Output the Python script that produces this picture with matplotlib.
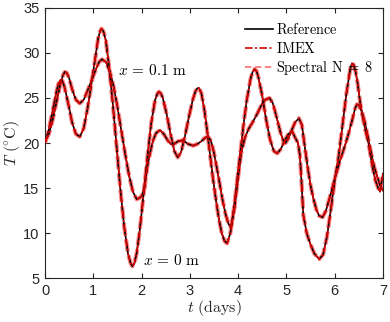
import matplotlib
matplotlib.use("Agg")
import matplotlib.pyplot as plt
from matplotlib.lines import Line2D

# x = 0 m (surface) temperature
t_x0 = [0.00, 0.08, 0.16, 0.24, 0.28, 0.32, 0.36, 0.40, 0.48, 0.56, 0.64, 0.72,
        0.80, 0.88, 0.96, 1.04, 1.10, 1.14, 1.17, 1.21, 1.26, 1.32, 1.40, 1.48,
        1.56, 1.64, 1.72, 1.77, 1.81, 1.85, 1.90, 1.96, 2.04, 2.12, 2.20, 2.28,
        2.33, 2.36, 2.40, 2.44, 2.52, 2.60, 2.68, 2.75, 2.82, 2.90, 2.98, 3.06,
        3.12, 3.16, 3.19, 3.24, 3.30, 3.36, 3.42, 3.48, 3.54, 3.60, 3.66,
        3.72, 3.77, 3.84, 3.92, 4.00, 4.06, 4.12, 4.18, 4.26, 4.30, 4.34, 4.38,
        4.42, 4.50, 4.58, 4.66, 4.74, 4.81, 4.88, 4.96, 5.04, 5.12,
        5.18, 5.24, 5.28, 5.32, 5.35, 5.42, 5.49, 5.58, 5.68, 5.76,
        5.84, 5.92, 6.00, 6.08, 6.16, 6.24, 6.30, 6.33, 6.36, 6.39, 6.43, 6.47,
        6.53, 6.62, 6.70, 6.77, 6.84, 6.90, 6.94, 7.00]
T_x0 = [20.0, 21.5, 23.6, 25.8, 26.6, 27.0, 26.9, 26.3, 24.4, 22.3, 21.0, 20.7,
        21.6, 23.8, 26.5, 29.4, 31.6, 32.4, 32.7, 32.4, 31.4, 28.8, 24.6, 19.8,
        14.9, 10.7, 7.7, 6.7, 6.3, 6.6, 7.8, 10.2, 14.2, 18.4, 22.2, 24.8,
        25.5, 25.7, 25.5, 25.0, 23.2, 21.0, 19.1, 18.4, 19.0, 20.8, 22.9, 24.8,
        25.8, 26.1, 26.1, 25.5, 23.7, 21.3, 18.6, 16.0, 13.7, 11.6, 10.0,
        9.1, 8.85, 10.0, 13.0, 16.8, 19.6, 22.4, 24.8, 27.2, 27.9, 28.2, 28.0,
        27.3, 25.2, 22.6, 20.4, 19.1, 18.85, 19.3, 20.2, 21.0, 21.3,
        20.6, 20.0, 18.6, 15.0, 12.0, 10.0, 8.85, 7.7, 7.1, 7.6,
        9.6, 12.6, 15.8, 18.5, 21.9, 25.4, 27.5, 28.4, 28.85, 28.7, 28.0, 26.8,
        24.4, 21.8, 20.0, 17.7, 15.9, 15.0, 14.6, 16.6]

# x = 0.1 m temperature
t_x01 = [0.00, 0.08, 0.16, 0.24, 0.32, 0.37, 0.41, 0.45, 0.50, 0.56, 0.64, 0.72,
         0.80, 0.88, 0.96, 1.04, 1.12, 1.18, 1.26, 1.34, 1.42, 1.50,
         1.58, 1.66, 1.74, 1.82, 1.90, 1.96, 2.00, 2.06, 2.12, 2.18,
         2.24, 2.30, 2.38, 2.46, 2.54, 2.60, 2.66, 2.76, 2.86, 2.96,
         3.07, 3.16, 3.24, 3.32, 3.38, 3.44, 3.50, 3.56, 3.62, 3.68,
         3.74, 3.80, 3.85, 3.92, 4.00, 4.06, 4.14, 4.22, 4.30, 4.40,
         4.48, 4.56, 4.65, 4.72, 4.80, 4.88, 4.94, 4.98, 5.04, 5.10,
         5.18, 5.26, 5.32, 5.38, 5.44, 5.50, 5.56, 5.62, 5.68, 5.75,
         5.82, 5.90, 6.02, 6.12, 6.23, 6.30, 6.36, 6.42, 6.46, 6.50,
         6.56, 6.62, 6.67, 6.72, 6.77, 6.82, 6.88, 6.94, 7.00]
T_x01 = [20.2, 21.0, 22.6, 24.6, 26.6, 27.5, 27.9, 27.8, 27.2, 26.0, 24.8, 24.4,
         24.8, 25.8, 26.9, 28.0, 29.0, 29.3, 29.0, 28.0, 26.3, 24.0,
         21.4, 18.8, 16.4, 14.6, 13.75, 13.9, 14.1, 15.0, 17.4, 19.0,
         20.3, 21.1, 21.45, 21.0, 20.3, 19.9, 19.85, 20.2, 20.3, 19.9,
         19.7, 19.9, 20.2, 20.6, 20.7, 20.2, 18.9, 17.2, 15.4, 13.6,
         12.1, 11.0, 10.6, 12.6, 16.2, 18.8, 20.6, 21.6, 22.3, 23.3,
         24.2, 24.8, 25.0, 24.4, 22.8, 21.1, 20.2, 20.0, 20.5, 21.3,
         22.3, 22.75, 22.0, 19.6, 17.3, 15.3, 13.8, 12.6, 11.9, 11.75,
         12.5, 14.0, 16.4, 18.2, 20.0, 21.3, 22.5, 23.8, 24.3, 24.2,
         23.5, 22.4, 21.1, 19.8, 18.5, 17.3, 16.3, 15.3, 14.7]

series_names = ["Reference", "IMEX", "Spectral N = 8"]
x_ticks = [0, 1, 2, 3, 4, 5, 6, 7]
y_ticks = [5, 10, 15, 20, 25, 30, 35]

plt.rcParams["mathtext.fontset"] = "cm"
plt.rcParams["font.family"] = ["Liberation Sans", "DejaVu Sans"]

fig = plt.figure(figsize=(3.9, 3.22), dpi=100)
ax = fig.add_axes([0.1154, 0.1366, 0.8666, 0.8386])

ink = "#262626"
spec_kw = dict(color="#ff6b6b", lw=3.0, ls=(0, (3.0, 1.0)), alpha=0.85, zorder=2)
ref_kw = dict(color="black", lw=1.2, ls="-", zorder=3)
imex_dash = (0, (4.5, 1.5, 1.2, 1.5))
imex_kw = dict(color="#d40000", lw=1.2, ls=imex_dash, zorder=4)

for tt, TT in [(t_x0, T_x0), (t_x01, T_x01)]:
    ax.plot(tt, TT, **spec_kw)
    ax.plot(tt, TT, **ref_kw)
    ax.plot(tt, TT, **imex_kw)


def to_math(s):
    parts = s.split(" = ")
    parts = [r"\mathrm{" + p.replace(" ", r"\ ") + "}" for p in parts]
    return "$" + r"\;=\;".join(parts) + "$"


handles = [Line2D([], [], color="black", lw=1.2),
           Line2D([], [], color="#d40000", lw=1.2, ls=imex_dash),
           Line2D([], [], color="#ff7a7a", lw=1.3, ls=(0, (3.5, 2.0)))]
labels = [to_math(s) for s in series_names]
leg = ax.legend(handles, labels, loc="upper right", frameon=False,
                fontsize=10.3, handlelength=1.95, handletextpad=0.2,
                labelspacing=0.25, bbox_to_anchor=(1.0, 0.985),
                borderaxespad=0.3)

ax.text(1.52, 28.0, r"$x\,=\,0.1\ \mathrm{m}$", fontsize=11, va="center", ha="left")
ax.text(2.03, 7.0, r"$x\,=\,0\ \mathrm{m}$", fontsize=11, va="center", ha="left")

ax.set_xlim(0, 7)
ax.set_ylim(5, 35)
ax.set_xticks(x_ticks)
ax.set_yticks(y_ticks)
ax.tick_params(direction="in", length=3.5, width=0.8, top=True, right=True,
               labelsize=10.5, colors=ink, pad=4)
for sp in ax.spines.values():
    sp.set_color(ink)
    sp.set_linewidth(0.8)

ax.set_xlabel(r"$t\ \mathrm{(days)}$", fontsize=11.5, color=ink, labelpad=0)
ax.set_ylabel(r"$T\ \mathrm{(^{\circ}C)}$", fontsize=11.5, color=ink, labelpad=1)

fig.savefig("out.png", dpi=100)
